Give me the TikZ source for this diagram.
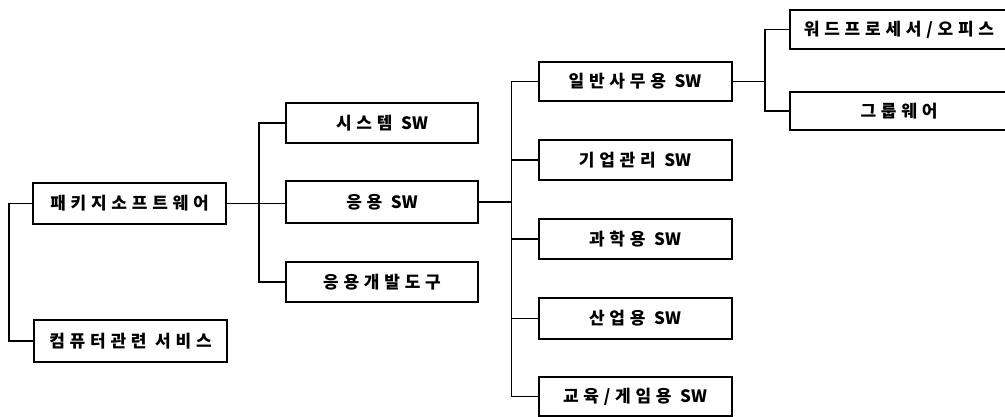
\documentclass[tikz,border=0pt]{standalone}
\usepackage{fontspec}
\setmainfont{Noto Sans CJK KR}[LetterSpace=28]
\newfontfamily\swfont{Noto Sans CJK KR}
\newcommand{\SWt}{{\swfont\bfseries SW}}
\begin{document}
\begin{tikzpicture}[x=1pt,y=-1pt,
  box/.style={draw,line width=2pt,rectangle,minimum height=40pt,inner sep=0pt,
    font=\fontsize{17}{20}\selectfont\bfseries},
  conn/.style={line width=1.6pt}]
\clip (0,0) rectangle (1005,417);
\fill[white] (0,0) rectangle (1005,417);
\node[box,minimum width=193pt,minimum height=41pt] (pkg) at (129.5,203.5) {패키지소프트웨어};
\node[box,minimum width=193pt,minimum height=42pt] (svc) at (130.5,341) {컴퓨터관련 서비스};
\node[box,minimum width=192pt] (sys) at (382,123) {시스템 \SWt};
\node[box,minimum width=192pt,minimum height=42pt] (app) at (382,202) {응용 \SWt};
\node[box,minimum width=192pt] (dev) at (382,282) {응용개발도구};
\node[box,minimum width=193pt,minimum height=39pt] (off) at (635,81.5) {일반사무용 \SWt};
\node[box,minimum width=193pt] (biz) at (635,160) {기업관리 \SWt};
\node[box,minimum width=193pt] (sci) at (635,239) {과학용 \SWt};
\node[box,minimum width=193pt,minimum height=41pt] (ind) at (635,318.5) {산업용 \SWt};
\node[box,minimum width=193pt,minimum height=39pt] (edu) at (635,396.5) {교육/게임용 \SWt};
\node[box,minimum width=218pt,minimum height=39pt] (wp) at (899,29.5) {워드프로세서/오피스};
\node[box,minimum width=218pt,minimum height=38pt] (gw) at (899,111) {그룹웨어};
% connectors
\draw[conn] (pkg.west) -- ++(-23,0) |- (svc.west);
\draw[conn] (pkg.east) -- (pkg.east -| app.west);
\draw[conn] (sys.west) -- ++(-26,0) |- (dev.west);
\coordinate (t3) at (512,202);
\draw[conn] (app.east) -- (t3);
\draw[conn] (off.west) -- ++(-26,0) |- (edu.west);
\draw[conn] (biz.west) -- ++(-26,0);
\draw[conn] (sci.west) -- ++(-26,0);
\draw[conn] (ind.west) -- ++(-26,0);
\coordinate (t4) at (766,81.5);
\draw[conn] (off.east) -- (t4);
\draw[conn] (wp.west) -- ++(-24,0) |- (gw.west);
\end{tikzpicture}
\end{document}
